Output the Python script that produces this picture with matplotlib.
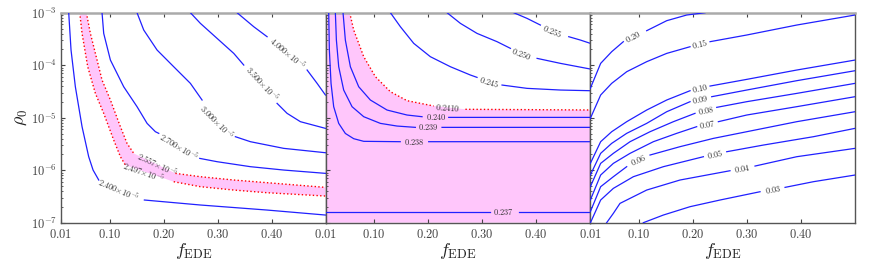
import numpy as np
import matplotlib
matplotlib.use('Agg')
import matplotlib.pyplot as plt

nan = np.nan
plt.rcParams['mathtext.fontset'] = 'cm'
plt.rcParams['font.family'] = 'serif'
plt.rcParams['font.serif'] = ['cmr10', 'DejaVu Serif']
plt.rcParams['axes.formatter.use_mathtext'] = True

# ---- panel 1 : contours in (f_EDE, log10 rho_0), nan = gap for the label
p1_2400_f = [0.0242, 0.0285, 0.0365, 0.0489, 0.0612, 0.0693, 0.0798, nan, 0.1643, 0.268, 0.3915, 0.4995]
p1_2400_l = [-3, -3.711, -4.41, -5.171, -5.743, -5.997, -6.187, nan, -6.568, -6.663, -6.759, -6.854]
p1_2497_f = [0.0446, 0.0489, 0.0594, 0.0736, 0.089, 0.1075, 0.1199, 0.1291, nan, 0.2186, 0.268, 0.3298, 0.3915, 0.4995]
p1_2497_l = [-3, -3.394, -4.029, -4.537, -4.917, -5.425, -5.743, -5.902, nan, -6.219, -6.314, -6.378, -6.429, -6.492]
p1_2557_f = [0.0569, 0.0643, 0.0767, 0.0859, 0.1014, 0.1199, 0.1322, 0.1446, nan, 0.2217, 0.268, 0.3298, 0.3915, 0.4995]
p1_2557_l = [-3, -3.394, -3.902, -4.283, -4.663, -5.171, -5.489, -5.679, nan, -6.06, -6.124, -6.187, -6.238, -6.327]
p1_2700_f = [0.0859, 0.089, 0.1014, 0.126, 0.1507, 0.1693, 0.1847, 0.1909, nan, 0.2668, 0.2989, 0.3606, 0.4223, 0.4995]
p1_2700_l = [-3, -3.394, -3.902, -4.41, -4.79, -5.108, -5.267, -5.298, nan, -5.775, -5.838, -5.933, -5.997, -6.06]
p1_3000_f = [0.1507, 0.1631, 0.1878, 0.2186, 0.2495, 0.2711, nan, 0.3328, 0.3606, 0.4223, 0.4995]
p1_3000_l = [-3, -3.33, -3.711, -4.029, -4.346, -4.663, nan, -5.362, -5.457, -5.584, -5.667]
p1_3500_f = [0.2495, 0.268, 0.2989, 0.3298, 0.3483, nan, 0.41, 0.4285, 0.4532, 0.4995]
p1_3500_l = [-3, -3.203, -3.489, -3.775, -3.997, nan, -4.727, -4.917, -5.076, -5.203]
p1_4000_f = [0.3359, 0.3668, 0.3915, nan, 0.4656, 0.4841, 0.4995]
p1_4000_l = [-3, -3.267, -3.457, nan, -4.092, -4.346, -4.568]

p1_lab_txt = ['2.400', '2.497', '2.557', '2.700', '3.000', '3.500', '4.000']
p1_lab_f = [0.1168, 0.1625, 0.1884, 0.2279, 0.2989, 0.3822, 0.4285]
p1_lab_l = [-6.378, -6.035, -5.902, -5.552, -5.076, -4.346, -3.775]
p1_lab_rot = [-23, -19, -25, -31, -45, -47, -40]

# ---- panel 2
p2_237_f = [0.01, 0.315, nan, 0.3674, 0.5]
p2_237_l = [-6.79, -6.79, nan, -6.79, -6.79]
p2_238_f = [0.0156, 0.0168, 0.0199, 0.0248, 0.0341, 0.0464, 0.0619, 0.0804, 0.148, nan, 0.2007, 0.5]
p2_238_l = [-3, -3.711, -4.346, -4.79, -5.108, -5.3, -5.4, -5.45, -5.457, nan, -5.457, -5.457]
p2_239_f = [0.0279, 0.0298, 0.0341, 0.0433, 0.0588, 0.0804, 0.1112, 0.1421, 0.176, nan, 0.2254, 0.5]
p2_239_l = [-3, -3.521, -4.029, -4.473, -4.79, -4.981, -5.108, -5.159, -5.184, nan, -5.184, -5.184]
p2_240_f = [0.0421, 0.0464, 0.0557, 0.0711, 0.0927, 0.1236, 0.1606, 0.1884, nan, 0.2378, 0.5]
p2_240_l = [-3, -3.521, -4.029, -4.41, -4.663, -4.854, -4.949, -4.981, nan, -4.994, -4.994]
p2_2410_f = [0.0544, 0.0619, 0.0804, 0.102, 0.1298, 0.1607, 0.21, nan, 0.2687, 0.5]
p2_2410_l = [-3, -3.33, -3.838, -4.219, -4.505, -4.676, -4.777, nan, -4.84, -4.853]
p2_245_f = [0.1298, 0.1483, 0.173, 0.2038, 0.2409, 0.2779, 0.2902, nan, 0.3365, 0.3828, 0.4446, 0.5]
p2_245_l = [-3, -3.267, -3.584, -3.838, -4.029, -4.187, -4.232, nan, -4.378, -4.441, -4.473, -4.486]
p2_250_f = [0.2347, 0.2594, 0.2902, 0.3273, 0.352, nan, 0.4014, 0.4446, 0.5]
p2_250_l = [-3, -3.203, -3.394, -3.552, -3.679, nan, -3.87, -3.965, -4.073]
p2_255_f = [0.3581, 0.3828, 0.4075, nan, 0.46, 0.4816, 0.5]
p2_255_l = [-3, -3.108, -3.235, nan, -3.457, -3.521, -3.584]

p2_lab_txt = ['0.237', '0.238', '0.239', '0.240', '0.2410', '0.245', '0.250', '0.255']
p2_lab_f = [0.3396, 0.1748, 0.2007, 0.215, 0.2359, 0.313, 0.3736, 0.431]
p2_lab_l = [-6.79, -5.457, -5.184, -4.99, -4.81, -4.31, -3.77, -3.34]
p2_lab_rot = [0, 0, 0, 0, -4, -17, -21, -23]

# ---- panel 3
p3_20_f = [0.01, 0.0291, 0.0495, 0.0711, nan, 0.1143, 0.1514, 0.1884, 0.2223]
p3_20_l = [-4.441, -3.965, -3.743, -3.552, nan, -3.343, -3.152, -3.044, -3.0]
p3_15_f = [0.01, 0.0291, 0.0495, 0.0773, 0.1143, 0.1514, 0.1946, nan, 0.2316, 0.2995, 0.3921, 0.5]
p3_15_l = [-5.013, -4.568, -4.346, -4.124, -3.933, -3.775, -3.648, nan, -3.552, -3.425, -3.235, -3.044]
p3_10_f = [0.01, 0.0291, 0.0495, 0.0773, 0.1143, 0.1514, 0.1946, nan, 0.2316, 0.2995, 0.3921, 0.5]
p3_10_l = [-5.87, -5.457, -5.267, -5.076, -4.854, -4.663, -4.486, nan, -4.397, -4.27, -4.092, -3.902]
p3_09_f = [0.01, 0.0291, 0.0495, 0.0773, 0.1143, 0.1514, 0.1946, nan, 0.2347, 0.2995, 0.3921, 0.5]
p3_09_l = [-6.092, -5.679, -5.489, -5.298, -5.108, -4.886, -4.695, nan, -4.6, -4.473, -4.295, -4.105]
p3_08_f = [0.01, 0.0291, 0.0526, 0.0835, 0.1205, 0.1637, 0.2038, nan, 0.244, 0.2995, 0.3921, 0.5]
p3_08_l = [-6.314, -5.87, -5.679, -5.457, -5.267, -5.076, -4.917, nan, -4.803, -4.695, -4.537, -4.346]
p3_07_f = [0.01, 0.0291, 0.0526, 0.0835, 0.1267, 0.1699, 0.2069, nan, 0.247, 0.2995, 0.3921, 0.5]
p3_07_l = [-6.568, -6.092, -5.87, -5.679, -5.457, -5.298, -5.171, nan, -5.076, -4.949, -4.79, -4.6]
p3_06_f = [0.01, 0.0291, 0.0526, 0.0773, nan, 0.1205, 0.176, 0.2378, 0.2995, 0.3921, 0.5]
p3_06_l = [-6.79, -6.314, -6.124, -5.933, nan, -5.711, -5.552, -5.394, -5.267, -5.076, -4.886]
p3_05_f = [0.0102, 0.0291, 0.0526, 0.0896, 0.1452, 0.2193, nan, 0.2625, 0.3304, 0.423, 0.5]
p3_05_l = [-7.0, -6.568, -6.346, -6.124, -5.933, -5.743, nan, -5.648, -5.521, -5.362, -5.203]
p3_04_f = [0.0402, 0.0526, 0.0649, 0.1143, 0.176, 0.2686, nan, 0.3149, 0.3921, 0.5]
p3_04_l = [-7.0, -6.822, -6.632, -6.378, -6.187, -6.01, nan, -5.921, -5.743, -5.584]
p3_03_f = [0.1081, 0.1452, 0.1946, 0.2501, 0.3242, nan, 0.3705, 0.423, 0.5]
p3_03_l = [-7.0, -6.854, -6.695, -6.568, -6.41, nan, -6.327, -6.219, -6.092]

p3_lab_txt = ['0.20', '0.15', '0.10', '0.09', '0.08', '0.07', '0.06', '0.05', '0.04', '0.03']
p3_lab_f = [0.0896, 0.2131, 0.2131, 0.2131, 0.2236, 0.2267, 0.0989, 0.2409, 0.2921, 0.3477]
p3_lab_l = [-3.457, -3.597, -4.441, -4.651, -4.867, -5.127, -5.806, -5.692, -5.965, -6.365]
p3_lab_rot = [27, 13, 12, 11, 11, 10, 24, 11, 10, 10]

xticks = [0.01, 0.10, 0.20, 0.30, 0.40]
xticklabels = ['0.01', '0.10', '0.20', '0.30', '0.40']

BLUE = '#2020ff'
PINK = '#ffc6fb'


def R(l):
    return 10.0 ** np.asarray(l, dtype=float)


def clean(f, l):
    f = np.asarray(f, dtype=float)
    l = np.asarray(l, dtype=float)
    m = ~np.isnan(f)
    return f[m], l[m]


def labels(ax, txt, fs, ls, rots, fmt):
    for t, f, l, r in zip(txt, fs, ls, rots):
        ax.text(f, 10 ** l, fmt % t, rotation=r, rotation_mode='anchor',
                ha='center', va='center', fontsize=6, color='#333333')


fig, axs = plt.subplots(1, 3, figsize=(8.72, 2.62), dpi=100, sharey=True)
fig.subplots_adjust(left=0.070, right=0.9805, top=0.9515, bottom=0.150, wspace=0)

ax1, ax2, ax3 = axs

# panel 1
lf, ll = clean(p1_2497_f, p1_2497_l)
uf, ul = clean(p1_2557_f, p1_2557_l)
ax1.fill(np.concatenate([lf, uf[::-1]]), R(np.concatenate([ll, ul[::-1]])),
         color=PINK, lw=0, zorder=1)
ax1.plot(p1_2497_f, R(p1_2497_l), ':', color='red', lw=1.0, zorder=2)
ax1.plot(p1_2557_f, R(p1_2557_l), ':', color='red', lw=1.0, zorder=2)
for f, l in [(p1_2400_f, p1_2400_l), (p1_2700_f, p1_2700_l), (p1_3000_f, p1_3000_l),
             (p1_3500_f, p1_3500_l), (p1_4000_f, p1_4000_l)]:
    ax1.plot(f, R(l), color=BLUE, lw=0.9, zorder=3)
labels(ax1, p1_lab_txt, p1_lab_f, p1_lab_l, p1_lab_rot, r'$%s{\times}10^{-5}$')

# panel 2
rf, rl = clean(p2_2410_f, p2_2410_l)
poly_f = np.concatenate([[0.01, 0.01], rf, [0.5]])
poly_l = np.concatenate([[-7.0, -3.0], rl, [-7.0]])
ax2.fill(poly_f, R(poly_l), color=PINK, lw=0, zorder=1)
ax2.plot(p2_2410_f, R(p2_2410_l), ':', color='red', lw=1.0, zorder=2)
for f, l in [(p2_237_f, p2_237_l), (p2_238_f, p2_238_l), (p2_239_f, p2_239_l),
             (p2_240_f, p2_240_l), (p2_245_f, p2_245_l), (p2_250_f, p2_250_l),
             (p2_255_f, p2_255_l)]:
    ax2.plot(f, R(l), color=BLUE, lw=0.9, zorder=3)
labels(ax2, p2_lab_txt, p2_lab_f, p2_lab_l, p2_lab_rot, r'$%s$')

# panel 3
for f, l in [(p3_20_f, p3_20_l), (p3_15_f, p3_15_l), (p3_10_f, p3_10_l),
             (p3_09_f, p3_09_l), (p3_08_f, p3_08_l), (p3_07_f, p3_07_l),
             (p3_06_f, p3_06_l), (p3_05_f, p3_05_l), (p3_04_f, p3_04_l),
             (p3_03_f, p3_03_l)]:
    ax3.plot(f, R(l), color=BLUE, lw=0.9, zorder=3)
labels(ax3, p3_lab_txt, p3_lab_f, p3_lab_l, p3_lab_rot, r'$%s$')

for ax in axs:
    ax.set_yscale('log')
    ax.set_ylim(1e-7, 1e-3)
    ax.set_xlim(0.01, 0.5)
    ax.set_xticks(xticks)
    ax.set_xticklabels(['$%s$' % t for t in xticklabels])
    ax.set_xlabel(r'$f_{\rm EDE}$', fontsize=13, color='#222222', labelpad=0)
    ax.tick_params(which='both', direction='in', top=True, right=False,
                   labelsize=9, colors='#444444')
    ax.tick_params(axis='x', pad=4)
    ax.tick_params(axis='y', pad=3)
    ax.tick_params(which='major', length=3, width=0.8)
    ax.tick_params(which='minor', length=1.5, width=0.6)
    for s in ['left', 'bottom', 'right']:
        ax.spines[s].set_color('#555555')
        ax.spines[s].set_linewidth(1.0)
    ax.spines['top'].set_color('#aaaaaa')
    ax.spines['top'].set_linewidth(1.8)

ax1.set_ylabel(r'$\rho_0$', fontsize=13, color='#222222', labelpad=1)

fig.savefig('out.png', dpi=100)
